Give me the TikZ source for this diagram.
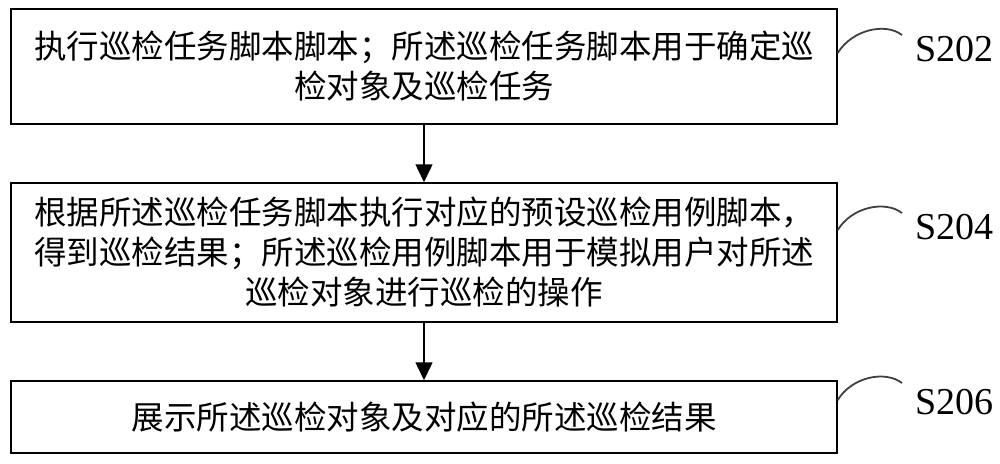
\documentclass[tikz,border=0pt]{standalone}
\usepackage{fontspec}
\setmainfont{Liberation Serif}
\newfontfamily\cjk{Noto Sans CJK SC}
\usetikzlibrary{arrows.meta}
\tikzset{
  stepbox/.style={draw=black, line width=1.5pt, minimum width=826pt, inner sep=0pt, align=center,
    font=\cjk\fontsize{32.5}{40}\selectfont},
  flow/.style={line width=1.5pt, -{Triangle[length=18pt,width=17pt]}},
  tag/.style={anchor=west, inner sep=0pt, font=\fontsize{38}{40}\selectfont},
  hook/.style={draw=black!75, line width=1.8pt}
}
\begin{document}
\begin{tikzpicture}[x=1pt,y=-1pt]
\useasboundingbox (0,0) rectangle (1000,463);
\node[stepbox, minimum height=115pt] (b1) at (424,66.5) {执行巡检任务脚本脚本；所述巡检任务脚本用于确定巡\\检对象及巡检任务};
\node[stepbox, minimum height=139pt] (b2) at (424,252.5) {根据所述巡检任务脚本执行对应的预设巡检用例脚本，\\得到巡检结果；所述巡检用例脚本用于模拟用户对所述\\巡检对象进行巡检的操作};
\node[stepbox, minimum height=72pt] (b3) at (424,417) {展示所述巡检对象及对应的所述巡检结果};
\draw[flow] (b1.south) -- (b2.north);
\draw[flow] (b2.south) -- (b3.north);
\node[tag] (s1) at (915,49) {S202};
\node[tag] (s2) at (915,227) {S204};
\node[tag] (s3) at (915,402) {S206};
\coordinate (c1) at ([yshift=13.5pt]b1.east);
\coordinate (c2) at ([yshift=22.5pt]b2.east);
\coordinate (c3) at ([yshift=17pt]b3.east);
\draw[hook] (c1) .. controls ++(14,-23) and ++(-17,-13) .. ([xshift=-13pt,yshift=14pt]s1.west);
\draw[hook] (c2) .. controls ++(14,-23) and ++(-17,-13) .. ([xshift=-13pt,yshift=14pt]s2.west);
\draw[hook] (c3) .. controls ++(14,-23) and ++(-17,-13) .. ([xshift=-13pt,yshift=19pt]s3.west);
\end{tikzpicture}
\end{document}
